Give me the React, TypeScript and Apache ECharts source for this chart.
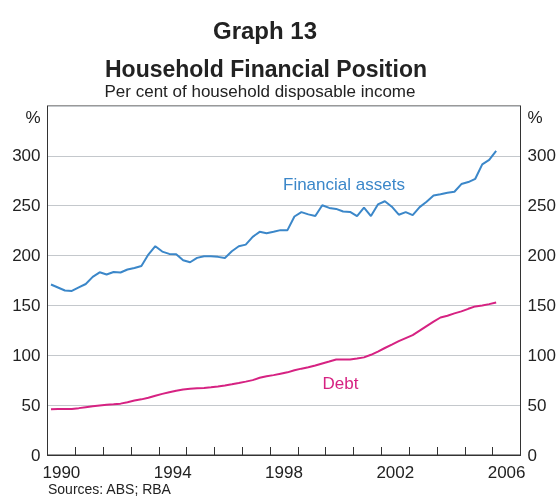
import React, { useEffect, useRef } from "react";
import * as echarts from "echarts";

// Quarterly observations, 1990 Q1 to 2006 Q1 (per cent of household disposable income)
const FIRST_YEAR = 1990;
const financialAssets = [
  171, 168, 165, 164.5, 168, 171.5, 178.6, 183.2, 181, 183.5,
  183, 186, 187.6, 189.6, 201, 209.4, 204, 201.7, 201.4, 195.3,
  193.3, 197.7, 199.4, 199.3, 198.7, 197.5, 204.3, 209.3, 211, 218.8,
  223.8, 222.4, 223.8, 225.5, 225.5, 239.2, 243.6, 241.3, 239.6, 250.5,
  247.8, 246.8, 244.2, 243.8, 239.6, 248, 239.6, 251.3, 254.5, 249,
  241, 243.6, 240.6, 248.6, 254, 260.2, 261.4, 263, 264, 271.7,
  273.7, 277, 291.5, 296, 305,
];
const debt = [
  46, 46.2, 46.1, 46.1, 47, 48, 48.8, 49.6, 50.3, 50.8,
  51.5, 53, 54.6, 55.8, 57.5, 59.5, 61.3, 63, 64.5, 65.7,
  66.4, 67, 67.3, 67.9, 68.8, 69.8, 70.9, 72.2, 73.6, 75.1,
  77.4, 78.9, 80.1, 81.5, 82.9, 85, 86.6, 88, 89.8, 91.8,
  93.7, 95.7, 95.7, 95.8, 96.7, 97.9, 100.5, 103.7, 107.3, 110.7,
  114.2, 117.2, 120.2, 124.7, 129.3, 133.7, 137.9, 139.6, 142, 144,
  146.6, 149, 149.9, 151.3, 153,
];
const xLabelYears = [1990, 1994, 1998, 2002, 2006];
const yTicks = [0, 50, 100, 150, 200, 250, 300];

const BLUE = "#3b87c9";
const MAGENTA = "#d62282";
const FONT = "'Liberation Sans', Arial, Helvetica, sans-serif";

// quarter index -> mid-quarter decimal year
const quarterPos = (i: number) => FIRST_YEAR + (i + 0.5) / 4;

export default function App() {
  const ref = useRef<HTMLDivElement>(null);
  useEffect(() => {
    if (!ref.current) return;
    const chart = echarts.init(ref.current, undefined, { renderer: "svg" });
    const years: number[] = [];
    for (let y = 1990; y <= 2007; y++) years.push(y);
    const yAxisCommon = {
      type: "value" as const,
      min: 0,
      max: 350,
      interval: 50,
      axisLine: { show: true, lineStyle: { color: "#333", width: 1 } },
      axisTick: { show: false },
      axisLabel: {
        color: "#222",
        fontSize: 17,
        fontFamily: FONT,
        margin: 7,
        formatter: (v: number) => (yTicks.indexOf(v) >= 0 ? String(v) : ""),
      },
    };
    chart.setOption({
      animation: false,
      grid: {
        left: 47.5,
        right: 38.5,
        top: 106,
        bottom: 41,
        show: true,
        borderColor: "#333",
        borderWidth: 1,
        backgroundColor: "transparent",
      },
      xAxis: {
        type: "value",
        min: 1990,
        max: 2007,
        interval: 1,
        axisLine: { show: true, onZero: false, lineStyle: { color: "#333", width: 1 } },
        axisTick: {
          show: true,
          inside: true,
          length: 8,
          customValues: years,
          lineStyle: { color: "#333", width: 1 },
        },
        splitLine: { show: false },
        axisLabel: {
          color: "#222",
          fontSize: 17,
          fontFamily: FONT,
          margin: 9,
          customValues: xLabelYears.map((y) => y + 0.5),
          formatter: (v: number) => String(Math.floor(v)),
        },
      },
      yAxis: [
        {
          ...yAxisCommon,
          position: "left",
          splitLine: { show: true, lineStyle: { color: "#c4c8cc", width: 1.2 } },
        },
        {
          ...yAxisCommon,
          position: "right",
          splitLine: { show: false },
        },
      ],
      series: [
        {
          name: "Financial assets",
          type: "line",
          data: financialAssets.map((v, i) => [quarterPos(i), v]),
          showSymbol: false,
          lineStyle: { color: BLUE, width: 2 },
          itemStyle: { color: BLUE },
          silent: true,
        },
        {
          name: "Debt",
          type: "line",
          data: debt.map((v, i) => [quarterPos(i), v]),
          showSymbol: false,
          lineStyle: { color: MAGENTA, width: 2 },
          itemStyle: { color: MAGENTA },
          silent: true,
        },
      ],
      graphic: [
        {
          type: "text",
          style: {
            text: "Graph 13",
            x: 265,
            y: 30,
            textAlign: "center",
            textVerticalAlign: "middle",
            font: `bold 24px ${FONT}`,
            fill: "#222",
          },
        },
        {
          type: "text",
          style: {
            text: "Household Financial Position",
            x: 266,
            y: 69,
            textAlign: "center",
            textVerticalAlign: "middle",
            font: `bold 23px ${FONT}`,
            fill: "#222",
          },
        },
        {
          type: "text",
          style: {
            text: "Per cent of household disposable income",
            x: 260,
            y: 91,
            textAlign: "center",
            textVerticalAlign: "middle",
            font: `17px ${FONT}`,
            fill: "#222",
          },
        },
        {
          type: "text",
          style: {
            text: "%",
            x: 40.5,
            y: 117,
            textAlign: "right",
            textVerticalAlign: "middle",
            font: `17px ${FONT}`,
            fill: "#222",
          },
        },
        {
          type: "text",
          style: {
            text: "%",
            x: 527.5,
            y: 117,
            textAlign: "left",
            textVerticalAlign: "middle",
            font: `17px ${FONT}`,
            fill: "#222",
          },
        },
        {
          type: "text",
          style: {
            text: "Financial assets",
            x: 283,
            y: 184,
            textAlign: "left",
            textVerticalAlign: "middle",
            font: `17px ${FONT}`,
            fill: BLUE,
          },
        },
        {
          type: "text",
          style: {
            text: "Debt",
            x: 322.5,
            y: 383,
            textAlign: "left",
            textVerticalAlign: "middle",
            font: `17px ${FONT}`,
            fill: MAGENTA,
          },
        },
        {
          type: "text",
          style: {
            text: "Sources: ABS; RBA",
            x: 48,
            y: 488.5,
            textAlign: "left",
            textVerticalAlign: "middle",
            font: `14px ${FONT}`,
            fill: "#222",
          },
        },
      ],
    });
    return () => chart.dispose();
  }, []);
  return (
    <div
      ref={ref}
      style={{ position: "fixed", left: 0, top: 0, width: 559, height: 496 }}
    />
  );
}
